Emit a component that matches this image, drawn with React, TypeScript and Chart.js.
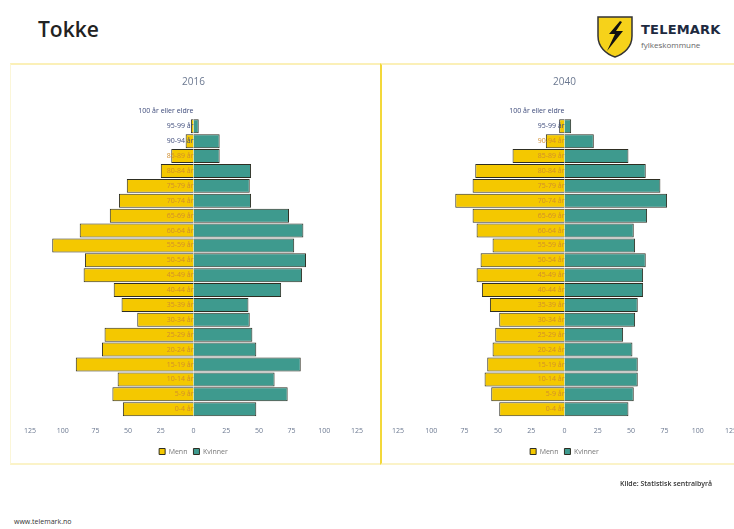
import React, { useEffect, useRef } from "react";
import { Chart, registerables } from "chart.js";

Chart.register(...registerables);

const ageGroups = [
  "100 år eller eldre", "95-99 år", "90-94 år", "85-89 år", "80-84 år", "75-79 år",
  "70-74 år", "65-69 år", "60-64 år", "55-59 år", "50-54 år", "45-49 år", "40-44 år",
  "35-39 år", "30-34 år", "25-29 år", "20-24 år", "15-19 år", "10-14 år", "5-9 år", "0-4 år",
];
const menn2016 = [0, 2, 6, 17, 25, 51, 57, 64, 87, 108, 83, 84, 61, 55, 43, 68, 70, 90, 58, 62, 54];
const kvinner2016 = [0, 4, 20, 20, 44, 43, 44, 73, 84, 77, 86, 83, 67, 42, 43, 45, 48, 82, 62, 72, 48];
const menn2040 = [0, 4, 14, 39, 67, 69, 82, 69, 66, 54, 63, 66, 62, 56, 49, 52, 54, 58, 60, 55, 49];
const kvinner2040 = [0, 5, 22, 48, 61, 72, 77, 62, 52, 53, 61, 59, 59, 55, 53, 44, 51, 55, 55, 52, 48];
const axisMin = -125;
const axisMax = 125;
const axisStep = 25;
const seriesNames = ["Menn", "Kvinner"];

const FONT = "'Open Sans', 'Liberation Sans', sans-serif";

function Pyramid({ title, menn, kvinner, width }: { title: string; menn: number[]; kvinner: number[]; width: number }) {
  const ref = useRef<HTMLCanvasElement>(null);
  useEffect(() => {
    const chart = new Chart(ref.current!, {
      type: "bar",
      data: {
        labels: ageGroups,
        datasets: [
          {
            label: seriesNames[0],
            data: menn.map((v) => -v),
            backgroundColor: "#f4c800",
            borderColor: "#2e2e22",
            borderWidth: 1,
            categoryPercentage: 1,
            barPercentage: 0.94,
          },
          {
            label: seriesNames[1],
            data: kvinner,
            backgroundColor: "#3e9a8e",
            borderColor: "#2e2e22",
            borderWidth: 1,
            categoryPercentage: 1,
            barPercentage: 0.94,
          },
        ],
      },
      options: {
        indexAxis: "y",
        animation: false,
        responsive: false,
        maintainAspectRatio: false,
        layout: { padding: { left: 20, right: 23, top: 0, bottom: 0 } },
        plugins: {
          title: {
            display: true,
            text: title,
            color: "#6b7890",
            font: { size: 10, family: FONT, weight: "normal" },
            padding: { top: 13, bottom: 16 },
          },
          legend: {
            position: "bottom",
            labels: {
              boxWidth: 6,
              boxHeight: 6,
              color: "#777",
              font: { size: 7, family: FONT },
              padding: 6,
            },
          },
          tooltip: { enabled: false },
        },
        scales: {
          x: {
            min: axisMin,
            max: axisMax,
            stacked: true,
            afterFit: (s: any) => {
              s.height += 5;
            },
            ticks: {
              stepSize: axisStep,
              callback: (v: any) => String(Math.abs(Number(v))),
              color: "#6b7890",
              font: { size: 7, family: FONT },
              maxRotation: 0,
              padding: 2,
            },
            grid: { display: false },
            border: { display: false },
          },
          y: {
            stacked: true,
            position: { x: 0 } as any,
            ticks: {
              z: 1,
              padding: 9,
              color: (ctx: any) => (menn[ctx.index] > 12 ? "#d08c2c" : "#3d4a7a"),
              font: { size: 7, family: FONT },
              autoSkip: false,
            },
            grid: { display: false },
            border: { display: false },
          },
        },
      },
    });
    return () => chart.destroy();
  }, []);
  return <canvas ref={ref} width={width} height={402} />;
}

function Logo() {
  return (
    <div style={{ position: "absolute", left: 596, top: 14, width: 138, height: 44 }}>
      <svg width="38" height="44" viewBox="0 0 38 44" style={{ position: "absolute", left: 0, top: 0 }}>
        <path d="M2 3 L36 3 L36 22 C36 33 28 40 19 43 C10 40 2 33 2 22 Z" fill="#f6d21a" stroke="#333" strokeWidth="1.5" />
        <path d="M24 7 L13 20 L19 20 L11 37 L27 17 L20 17 L26 8 Z" fill="#111" />
      </svg>
      <div style={{ position: "absolute", left: 45, top: 8, fontFamily: "'DejaVu Sans', sans-serif", fontWeight: 700, fontSize: 13, color: "#1d2a40", letterSpacing: 0.2 }}>
        TELEMARK
      </div>
      <div style={{ position: "absolute", left: 45, top: 25, fontFamily: FONT, fontSize: 8, color: "#666" }}>
        fylkeskommune
      </div>
    </div>
  );
}

export default function App() {
  return (
    <div style={{ position: "fixed", left: 0, top: 0, width: 734, height: 529, overflow: "hidden", background: "#fff" }}>
      <div style={{ position: "absolute", left: 38, top: 15, fontFamily: FONT, fontWeight: 600, fontSize: 21, color: "#222" }}>Tokke</div>
      <Logo />
      <div style={{ position: "absolute", left: 10, top: 63, width: 370, height: 402, borderTop: "2px solid #fbf0b8", borderLeft: "1px solid #fbf6d8", borderBottom: "2px solid #fbf3c8", boxSizing: "border-box" }} />
      <div style={{ position: "absolute", left: 380, top: 63, width: 370, height: 402, borderTop: "2px solid #fbf0b8", borderLeft: "2px solid #f3d83a", borderBottom: "2px solid #fbf3c8", boxSizing: "border-box" }} />
      <div style={{ position: "absolute", left: 10, top: 63 }}>
        <Pyramid title="2016" menn={menn2016} kvinner={kvinner2016} width={370} />
      </div>
      <div style={{ position: "absolute", left: 378, top: 63 }}>
        <Pyramid title="2040" menn={menn2040} kvinner={kvinner2040} width={376} />
      </div>
      <div style={{ position: "absolute", left: 620, top: 479, fontFamily: FONT, fontSize: 7, fontWeight: 600, color: "#333", whiteSpace: "nowrap" }}>
        Kilde: Statistisk sentralbyrå
      </div>
      <div style={{ position: "absolute", left: 14, top: 517, fontFamily: FONT, fontSize: 7, color: "#333", whiteSpace: "nowrap" }}>
        www.telemark.no
      </div>
    </div>
  );
}
